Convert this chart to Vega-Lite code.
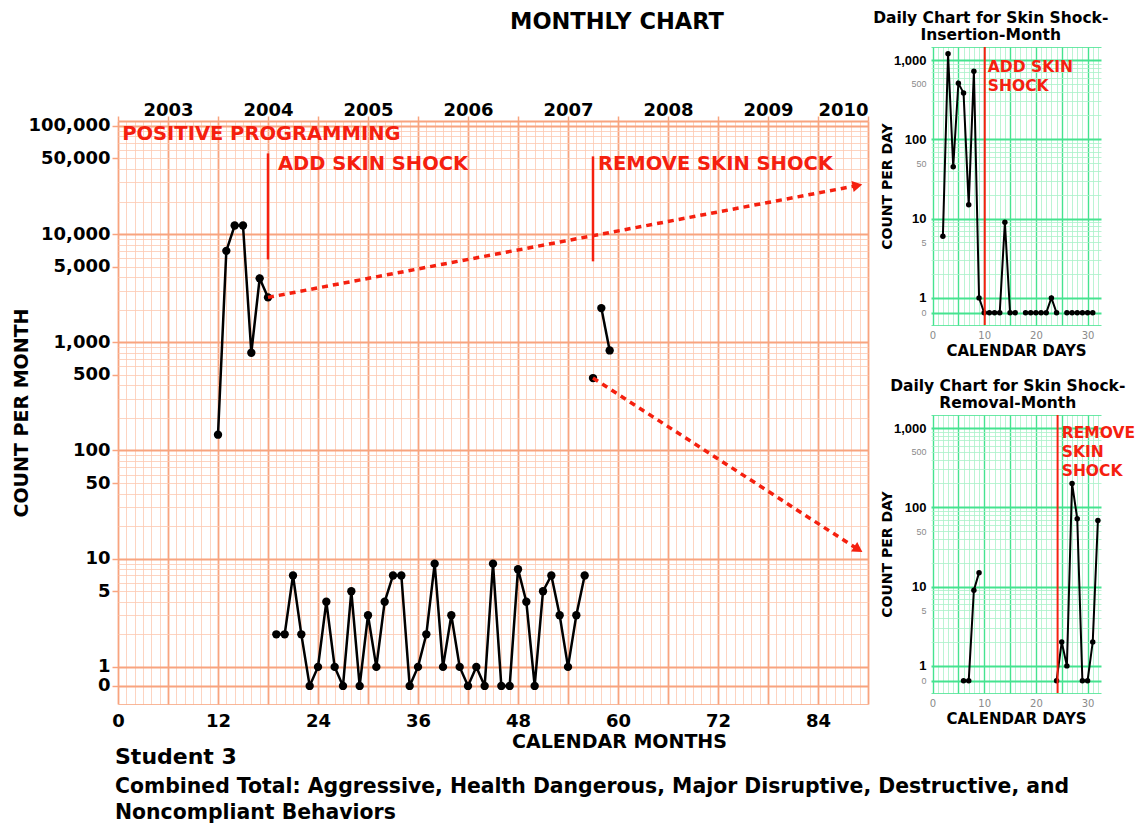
{
  "$schema": "https://vega.github.io/schema/vega-lite/v6.json",
  "background": "white",
  "padding": {"left": 12, "top": 10, "right": 0, "bottom": 1},
  "config": {"font": "DejaVu Sans", "view": {"stroke": null}},
  "title": {
    "text": "Student 3",
    "subtitle": ["Combined Total: Aggressive, Health Dangerous, Major Disruptive, Destructive, and", "Noncompliant Behaviors"],
    "orient": "bottom",
    "anchor": "start",
    "dx": 103,
    "offset": -4,
    "fontSize": 22,
    "fontWeight": "bold",
    "color": "black",
    "subtitleFontSize": 20.4,
    "subtitleFontWeight": "bold",
    "subtitleColor": "black",
    "subtitlePadding": 8,
    "subtitleLineHeight": 26
  },
  "datasets": {
    "monthly": [
      {"month": 12, "count": 140, "segment": "A"},
      {"month": 13, "count": 7000, "segment": "A"},
      {"month": 14, "count": 12000, "segment": "A"},
      {"month": 15, "count": 12000, "segment": "A"},
      {"month": 16, "count": 800, "segment": "A"},
      {"month": 17, "count": 3900, "segment": "A"},
      {"month": 18, "count": 2600, "segment": "A"},
      {"month": 19, "count": 2, "segment": "B"},
      {"month": 20, "count": 2, "segment": "B"},
      {"month": 21, "count": 7, "segment": "B"},
      {"month": 22, "count": 2, "segment": "B"},
      {"month": 23, "count": 0, "segment": "B"},
      {"month": 24, "count": 1, "segment": "B"},
      {"month": 25, "count": 4, "segment": "B"},
      {"month": 26, "count": 1, "segment": "B"},
      {"month": 27, "count": 0, "segment": "B"},
      {"month": 28, "count": 5, "segment": "B"},
      {"month": 29, "count": 0, "segment": "B"},
      {"month": 30, "count": 3, "segment": "B"},
      {"month": 31, "count": 1, "segment": "B"},
      {"month": 32, "count": 4, "segment": "B"},
      {"month": 33, "count": 7, "segment": "B"},
      {"month": 34, "count": 7, "segment": "B"},
      {"month": 35, "count": 0, "segment": "B"},
      {"month": 36, "count": 1, "segment": "B"},
      {"month": 37, "count": 2, "segment": "B"},
      {"month": 38, "count": 9, "segment": "B"},
      {"month": 39, "count": 1, "segment": "B"},
      {"month": 40, "count": 3, "segment": "B"},
      {"month": 41, "count": 1, "segment": "B"},
      {"month": 42, "count": 0, "segment": "B"},
      {"month": 43, "count": 1, "segment": "B"},
      {"month": 44, "count": 0, "segment": "B"},
      {"month": 45, "count": 9, "segment": "B"},
      {"month": 46, "count": 0, "segment": "B"},
      {"month": 47, "count": 0, "segment": "B"},
      {"month": 48, "count": 8, "segment": "B"},
      {"month": 49, "count": 4, "segment": "B"},
      {"month": 50, "count": 0, "segment": "B"},
      {"month": 51, "count": 5, "segment": "B"},
      {"month": 52, "count": 7, "segment": "B"},
      {"month": 53, "count": 3, "segment": "B"},
      {"month": 54, "count": 1, "segment": "B"},
      {"month": 55, "count": 3, "segment": "B"},
      {"month": 56, "count": 7, "segment": "B"},
      {"month": 57, "count": 467, "segment": "C"},
      {"month": 58, "count": 2070, "segment": "D"},
      {"month": 59, "count": 841, "segment": "D"}
    ],
    "mainNotes": [
      {"label": "POSITIVE PROGRAMMING", "month": 0.5, "count": 85000},
      {"label": "ADD SKIN SHOCK", "month": 19.2, "count": 44000},
      {"label": "REMOVE SKIN SHOCK", "month": 57.6, "count": 44000}
    ],
    "phases": [
      {"phase": "ADD SKIN SHOCK", "month": 18, "top": 55700, "bottom": 5840},
      {"phase": "REMOVE SKIN SHOCK", "month": 57, "top": 52300, "bottom": 5600}
    ],
    "arrows": [
      {"arrow": "insertion", "month": 18, "count": 2600},
      {"arrow": "insertion", "month": 88.7, "count": 28100},
      {"arrow": "removal", "month": 57, "count": 467},
      {"arrow": "removal", "month": 88.8, "count": 12.2}
    ],
    "heads": [
      {"arrow": "insertion", "month": 88.73, "count": 28100},
      {"arrow": "removal", "month": 88.83, "count": 12.2}
    ],
    "insertion": [
      {"day": 2, "count": 6, "segment": "A"},
      {"day": 3, "count": 1200, "segment": "A"},
      {"day": 4, "count": 45, "segment": "A"},
      {"day": 5, "count": 510, "segment": "A"},
      {"day": 6, "count": 385, "segment": "A"},
      {"day": 7, "count": 15, "segment": "A"},
      {"day": 8, "count": 720, "segment": "A"},
      {"day": 9, "count": 1, "segment": "A"},
      {"day": 10, "count": 0, "segment": "A"},
      {"day": 11, "count": 0, "segment": "A"},
      {"day": 12, "count": 0, "segment": "A"},
      {"day": 13, "count": 0, "segment": "A"},
      {"day": 14, "count": 9, "segment": "A"},
      {"day": 15, "count": 0, "segment": "A"},
      {"day": 16, "count": 0, "segment": "A"},
      {"day": 18, "count": 0, "segment": "B"},
      {"day": 19, "count": 0, "segment": "B"},
      {"day": 20, "count": 0, "segment": "B"},
      {"day": 21, "count": 0, "segment": "B"},
      {"day": 22, "count": 0, "segment": "B"},
      {"day": 23, "count": 1, "segment": "B"},
      {"day": 24, "count": 0, "segment": "B"},
      {"day": 26, "count": 0, "segment": "C"},
      {"day": 27, "count": 0, "segment": "C"},
      {"day": 28, "count": 0, "segment": "C"},
      {"day": 29, "count": 0, "segment": "C"},
      {"day": 30, "count": 0, "segment": "C"},
      {"day": 31, "count": 0, "segment": "C"}
    ],
    "removal": [
      {"day": 6, "count": 0, "segment": "A"},
      {"day": 7, "count": 0, "segment": "A"},
      {"day": 8, "count": 9, "segment": "A"},
      {"day": 9, "count": 15, "segment": "A"},
      {"day": 24, "count": 0, "segment": "B"},
      {"day": 25, "count": 2, "segment": "B"},
      {"day": 26, "count": 1, "segment": "B"},
      {"day": 27, "count": 200, "segment": "B"},
      {"day": 28, "count": 72, "segment": "B"},
      {"day": 29, "count": 0, "segment": "B"},
      {"day": 30, "count": 0, "segment": "B"},
      {"day": 31, "count": 2, "segment": "B"},
      {"day": 32, "count": 68, "segment": "B"}
    ],
    "dailyPhases": [
      {"chart": "insertion", "day": 10.1, "labelDay": 10.7, "labelCount": 1000, "label": "ADD SKIN\nSHOCK"},
      {"chart": "removal", "day": 24.2, "labelDay": 25, "labelCount": 1060, "label": "REMOVE\nSKIN\nSHOCK"}
    ],
    "empty": []
  },
  "spacing": 4,
  "align": "none",
  "concat": [
    {
      "spacing": 12,
      "vconcat": [
        {
          "width": 750,
          "height": 42,
          "title": {"text": "MONTHLY CHART", "anchor": "start", "frame": "group", "dx": 392, "offset": 14, "fontSize": 22.5, "fontWeight": "bold", "color": "black"},
          "data": {"name": "empty"},
          "mark": "point"
        },
        {
          "width": 750,
          "height": 583,
          "resolve": {"axis": {"x": "independent", "y": "independent"}},
          "layer": [
            {
              "data": {"name": "monthly"},
              "transform": [{"calculate": "datum.count == 0 ? 0.667 : datum.count", "as": "pos"}],
              "mark": {"type": "line", "color": "black", "strokeWidth": 2.5},
              "encoding": {
                "x": {
                  "field": "month", "type": "quantitative",
                  "scale": {"domain": [0, 90], "nice": false, "zero": false},
                  "axis": {
                    "orient": "bottom",
                    "values": [0,1,2,3,4,5,6,7,8,9,10,11,12,13,14,15,16,17,18,19,20,21,22,23,24,25,26,27,28,29,30,31,32,33,34,35,36,37,38,39,40,41,42,43,44,45,46,47,48,49,50,51,52,53,54,55,56,57,58,59,60,61,62,63,64,65,66,67,68,69,70,71,72,73,74,75,76,77,78,79,80,81,82,83,84,85,86,87,88,89,90],
                    "labelExpr": "datum.value % 12 == 0 ? datum.label : ''",
                    "labelOverlap": false,
                    "labelFlush": false,
                    "grid": true,
                    "gridColor": {"condition": {"test": "datum.value % 6 == 0", "value": "#f8a47f"}, "value": "#fcc9b1"},
                    "gridWidth": {"condition": {"test": "datum.value % 6 == 0", "value": 1.8}, "value": 0.8},
                    "ticks": false,
                    "domain": false,
                    "labelFontSize": 18,
                    "labelFontWeight": "bold",
                    "labelColor": "black",
                    "labelPadding": 8,
                    "title": "CALENDAR MONTHS",
                    "titleX": 501,
                    "titleFontSize": 19,
                    "titleFontWeight": "bold",
                    "titleColor": "black",
                    "titlePadding": 2
                  }
                },
                "y": {
                  "field": "pos", "type": "quantitative",
                  "scale": {"type": "log", "domain": [0.454, 111000], "nice": false},
                  "axis": {
                    "orient": "left",
                    "values": [0.454,0.667,1,2,3,4,5,6,7,8,9,10,20,30,40,50,60,70,80,90,100,200,300,400,500,600,700,800,900,1000,2000,3000,4000,5000,6000,7000,8000,9000,10000,20000,30000,40000,50000,60000,70000,80000,90000,100000,111000],
                    "labelExpr": "(datum.value > 0.6 && datum.value < 0.7) ? '0' : (indexof([1,5,10,50,100,500,1000,5000,10000,50000,100000], datum.value) >= 0 ? format(datum.value, ',') : '')",
                    "labelOverlap": false,
                    "grid": true,
                    "gridColor": {"condition": {"test": "indexof([0.454,0.667,1,10,100,1000,10000,100000,111000], datum.value) >= 0", "value": "#f8a47f"}, "value": "#fcc9b1"},
                    "gridWidth": {"condition": {"test": "indexof([0.667,1,10,100,1000,10000,100000,111000], datum.value) >= 0", "value": 2}, "value": 0.8},
                    "ticks": true,
                    "tickColor": "#f8a47f",
                    "tickSize": 6,
                    "tickWidth": 1.5,
                    "tickOpacity": {"condition": {"test": "indexof([0.667,1,5,10,50,100,500,1000,5000,10000,50000,100000], datum.value) >= 0", "value": 1}, "value": 0},
                    "domain": false,
                    "labelFontSize": 18,
                    "labelFontWeight": "bold",
                    "labelColor": "black",
                    "labelPadding": 2,
                    "title": "COUNT PER MONTH",
                    "titleFontSize": 19,
                    "titleFontWeight": "bold",
                    "titleColor": "black",
                    "titlePadding": -3
                  }
                },
                "detail": {"field": "segment", "type": "nominal"}
              }
            },
            {
              "data": {"name": "monthly"},
              "transform": [{"calculate": "datum.count == 0 ? 0.667 : datum.count", "as": "pos"}],
              "mark": {"type": "point", "filled": true, "color": "black", "size": 70, "opacity": 1},
              "encoding": {
                "x": {"field": "month", "type": "quantitative", "axis": null},
                "y": {"field": "pos", "type": "quantitative", "axis": null}
              }
            },
            {
              "data": {"name": "phases"},
              "mark": {"type": "rule", "color": "#f5200f", "strokeWidth": 2.5},
              "encoding": {
                "x": {"field": "month", "type": "quantitative", "axis": null},
                "y": {"field": "top", "type": "quantitative", "axis": null},
                "y2": {"field": "bottom"}
              }
            },
            {
              "data": {"name": "arrows"},
              "mark": {"type": "line", "color": "#f5200f", "strokeWidth": 3.5, "strokeDash": [6, 5]},
              "encoding": {
                "x": {"field": "month", "type": "quantitative", "axis": null},
                "y": {"field": "count", "type": "quantitative", "axis": null},
                "detail": {"field": "arrow", "type": "nominal"}
              }
            },
            {
              "data": {"name": "heads"},
              "transform": [{"filter": "datum.arrow == 'insertion'"}],
              "mark": {"type": "point", "shape": "triangle-right", "filled": true, "color": "#f5200f", "size": 130, "opacity": 1, "angle": 349},
              "encoding": {
                "x": {"field": "month", "type": "quantitative", "axis": null},
                "y": {"field": "count", "type": "quantitative", "axis": null}
              }
            },
            {
              "data": {"name": "heads"},
              "transform": [{"filter": "datum.arrow == 'removal'"}],
              "mark": {"type": "point", "shape": "triangle-right", "filled": true, "color": "#f5200f", "size": 130, "opacity": 1, "angle": 33},
              "encoding": {
                "x": {"field": "month", "type": "quantitative", "axis": null},
                "y": {"field": "count", "type": "quantitative", "axis": null}
              }
            },
            {
              "data": {"name": "mainNotes"},
              "mark": {"type": "text", "color": "#f5200f", "fontSize": 19.5, "fontWeight": "bold", "align": "left", "baseline": "middle"},
              "encoding": {
                "x": {
                  "field": "month", "type": "quantitative",
                  "axis": {
                    "orient": "top",
                    "values": [0,6,12,18,24,30,36,42,48,54,60,66,72,78,84,90],
                    "labelExpr": "datum.value % 12 == 6 ? '' + (2003 + (datum.value - 6) / 12) : ''",
                    "labelOverlap": false,
                    "labelFlush": true,
                    "grid": false,
                    "ticks": true,
                    "tickColor": "#f8a47f",
                    "tickSize": 5,
                    "tickWidth": 1.5,
                    "domain": false,
                    "labelFontSize": 18,
                    "labelFontWeight": "bold",
                    "labelColor": "black",
                    "labelPadding": -3,
                    "title": null
                  }
                },
                "y": {"field": "count", "type": "quantitative", "axis": null},
                "text": {"field": "label", "type": "nominal"}
              }
            }
          ]
        }
      ]
    },
    {
      "spacing": 20,
      "vconcat": [
        {
          "width": 170,
          "height": 278,
          "title": {"text": ["Daily Chart for Skin Shock-", "Insertion-Month"], "anchor": "middle", "frame": "bounds", "offset": 0, "fontSize": 15.5, "fontWeight": "bold", "color": "black", "lineHeight": 17},
          "resolve": {"axis": {"x": "independent", "y": "independent"}},
          "layer": [
            {
              "data": {"name": "insertion"},
              "transform": [{"calculate": "datum.count == 0 ? 0.65 : datum.count", "as": "pos"}],
              "mark": {"type": "line", "color": "black", "strokeWidth": 2},
              "encoding": {
                "x": {
                  "field": "day", "type": "quantitative",
                  "scale": {"domain": [-0.3, 32.6], "nice": false, "zero": false},
                  "axis": {
                    "orient": "bottom",
                    "values": [0,1,2,3,4,5,6,7,8,9,10,11,12,13,14,15,16,17,18,19,20,21,22,23,24,25,26,27,28,29,30,31,32],
                    "labelExpr": "datum.value % 10 == 0 ? datum.label : ''",
                    "labelOverlap": false,
                    "grid": true,
                    "gridColor": {"condition": {"test": "datum.value % 5 == 0", "value": "#45e38f"}, "value": "#a9f1c9"},
                    "gridWidth": {"condition": {"test": "datum.value % 5 == 0", "value": 1.4}, "value": 0.8},
                    "ticks": false,
                    "domain": false,
                    "labelFontSize": 10,
                    "labelColor": "#8a8a8a",
                    "labelPadding": 5,
                    "title": "CALENDAR DAYS",
                    "titleFontSize": 15,
                    "titleFontWeight": "bold",
                    "titleColor": "black",
                    "titlePadding": 3
                  }
                },
                "y": {
                  "field": "pos", "type": "quantitative",
                  "scale": {"type": "log", "domain": [0.455, 1460], "nice": false},
                  "axis": {
                    "orient": "left",
                    "values": [0.455,0.65,1,2,3,4,5,6,7,8,9,10,20,30,40,50,60,70,80,90,100,200,300,400,500,600,700,800,900,1000,1460],
                    "labelExpr": "(datum.value > 0.6 && datum.value < 0.7) ? '0' : (indexof([1,5,10,50,100,500,1000], datum.value) >= 0 ? format(datum.value, ',') : '')",
                    "labelOverlap": false,
                    "grid": true,
                    "gridColor": {"condition": {"test": "indexof([0.455,0.65,1,10,100,1000,1460], datum.value) >= 0", "value": "#45e38f"}, "value": "#a9f1c9"},
                    "gridWidth": {"condition": {"test": "indexof([0.65,1,10,100,1000], datum.value) >= 0", "value": 2}, "value": 0.8},
                    "ticks": false,
                    "domain": false,
                    "labelFont": "Liberation Sans",
                    "labelFontSize": {"condition": {"test": "indexof([1,10,100,1000], datum.value) >= 0", "value": 13}, "value": 9},
                    "labelFontWeight": {"condition": {"test": "indexof([1,10,100,1000], datum.value) >= 0", "value": "bold"}, "value": "normal"},
                    "labelColor": {"condition": {"test": "indexof([1,10,100,1000], datum.value) >= 0", "value": "black"}, "value": "#8a8a8a"},
                    "labelPadding": 5,
                    "title": "COUNT PER DAY",
                    "titleFontSize": 14,
                    "titleFontWeight": "bold",
                    "titleColor": "black",
                    "titlePadding": -1
                  }
                },
                "detail": {"field": "segment", "type": "nominal"}
              }
            },
            {
              "data": {"name": "insertion"},
              "transform": [{"calculate": "datum.count == 0 ? 0.65 : datum.count", "as": "pos"}],
              "mark": {"type": "point", "filled": true, "color": "black", "size": 30, "opacity": 1},
              "encoding": {
                "x": {"field": "day", "type": "quantitative", "axis": null},
                "y": {"field": "pos", "type": "quantitative", "axis": null}
              }
            },
            {
              "data": {"name": "dailyPhases"},
              "transform": [{"filter": "datum.chart == 'insertion'"}],
              "mark": {"type": "rule", "color": "#f5200f", "strokeWidth": 2},
              "encoding": {"x": {"field": "day", "type": "quantitative", "axis": null}}
            },
            {
              "data": {"name": "dailyPhases"},
              "transform": [{"filter": "datum.chart == 'insertion'"}],
              "mark": {"type": "text", "color": "#f5200f", "fontSize": 15.5, "fontWeight": "bold", "align": "left", "baseline": "top", "lineBreak": "\n", "lineHeight": 19},
              "encoding": {
                "x": {"field": "labelDay", "type": "quantitative", "axis": null},
                "y": {"field": "labelCount", "type": "quantitative", "axis": null},
                "text": {"field": "label", "type": "nominal"}
              }
            }
          ]
        },
        {
          "width": 170,
          "height": 278,
          "title": {"text": ["Daily Chart for Skin Shock-", "Removal-Month"], "anchor": "middle", "frame": "bounds", "offset": 0, "fontSize": 15.5, "fontWeight": "bold", "color": "black", "lineHeight": 17},
          "resolve": {"axis": {"x": "independent", "y": "independent"}},
          "layer": [
            {
              "data": {"name": "removal"},
              "transform": [{"calculate": "datum.count == 0 ? 0.65 : datum.count", "as": "pos"}],
              "mark": {"type": "line", "color": "black", "strokeWidth": 2},
              "encoding": {
                "x": {
                  "field": "day", "type": "quantitative",
                  "scale": {"domain": [-0.3, 32.6], "nice": false, "zero": false},
                  "axis": {
                    "orient": "bottom",
                    "values": [0,1,2,3,4,5,6,7,8,9,10,11,12,13,14,15,16,17,18,19,20,21,22,23,24,25,26,27,28,29,30,31,32],
                    "labelExpr": "datum.value % 10 == 0 ? datum.label : ''",
                    "labelOverlap": false,
                    "grid": true,
                    "gridColor": {"condition": {"test": "datum.value % 5 == 0", "value": "#45e38f"}, "value": "#a9f1c9"},
                    "gridWidth": {"condition": {"test": "datum.value % 5 == 0", "value": 1.4}, "value": 0.8},
                    "ticks": false,
                    "domain": false,
                    "labelFontSize": 10,
                    "labelColor": "#8a8a8a",
                    "labelPadding": 5,
                    "title": "CALENDAR DAYS",
                    "titleFontSize": 15,
                    "titleFontWeight": "bold",
                    "titleColor": "black",
                    "titlePadding": 3
                  }
                },
                "y": {
                  "field": "pos", "type": "quantitative",
                  "scale": {"type": "log", "domain": [0.455, 1460], "nice": false},
                  "axis": {
                    "orient": "left",
                    "values": [0.455,0.65,1,2,3,4,5,6,7,8,9,10,20,30,40,50,60,70,80,90,100,200,300,400,500,600,700,800,900,1000,1460],
                    "labelExpr": "(datum.value > 0.6 && datum.value < 0.7) ? '0' : (indexof([1,5,10,50,100,500,1000], datum.value) >= 0 ? format(datum.value, ',') : '')",
                    "labelOverlap": false,
                    "grid": true,
                    "gridColor": {"condition": {"test": "indexof([0.455,0.65,1,10,100,1000,1460], datum.value) >= 0", "value": "#45e38f"}, "value": "#a9f1c9"},
                    "gridWidth": {"condition": {"test": "indexof([0.65,1,10,100,1000], datum.value) >= 0", "value": 2}, "value": 0.8},
                    "ticks": false,
                    "domain": false,
                    "labelFont": "Liberation Sans",
                    "labelFontSize": {"condition": {"test": "indexof([1,10,100,1000], datum.value) >= 0", "value": 13}, "value": 9},
                    "labelFontWeight": {"condition": {"test": "indexof([1,10,100,1000], datum.value) >= 0", "value": "bold"}, "value": "normal"},
                    "labelColor": {"condition": {"test": "indexof([1,10,100,1000], datum.value) >= 0", "value": "black"}, "value": "#8a8a8a"},
                    "labelPadding": 5,
                    "title": "COUNT PER DAY",
                    "titleFontSize": 14,
                    "titleFontWeight": "bold",
                    "titleColor": "black",
                    "titlePadding": -1
                  }
                },
                "detail": {"field": "segment", "type": "nominal"}
              }
            },
            {
              "data": {"name": "removal"},
              "transform": [{"calculate": "datum.count == 0 ? 0.65 : datum.count", "as": "pos"}],
              "mark": {"type": "point", "filled": true, "color": "black", "size": 30, "opacity": 1},
              "encoding": {
                "x": {"field": "day", "type": "quantitative", "axis": null},
                "y": {"field": "pos", "type": "quantitative", "axis": null}
              }
            },
            {
              "data": {"name": "dailyPhases"},
              "transform": [{"filter": "datum.chart == 'removal'"}],
              "mark": {"type": "rule", "color": "#f5200f", "strokeWidth": 2},
              "encoding": {"x": {"field": "day", "type": "quantitative", "axis": null}}
            },
            {
              "data": {"name": "dailyPhases"},
              "transform": [{"filter": "datum.chart == 'removal'"}],
              "mark": {"type": "text", "color": "#f5200f", "fontSize": 15.5, "fontWeight": "bold", "align": "left", "baseline": "top", "lineBreak": "\n", "lineHeight": 19},
              "encoding": {
                "x": {"field": "labelDay", "type": "quantitative", "axis": null},
                "y": {"field": "labelCount", "type": "quantitative", "axis": null},
                "text": {"field": "label", "type": "nominal"}
              }
            }
          ]
        }
      ]
    }
  ]
}
